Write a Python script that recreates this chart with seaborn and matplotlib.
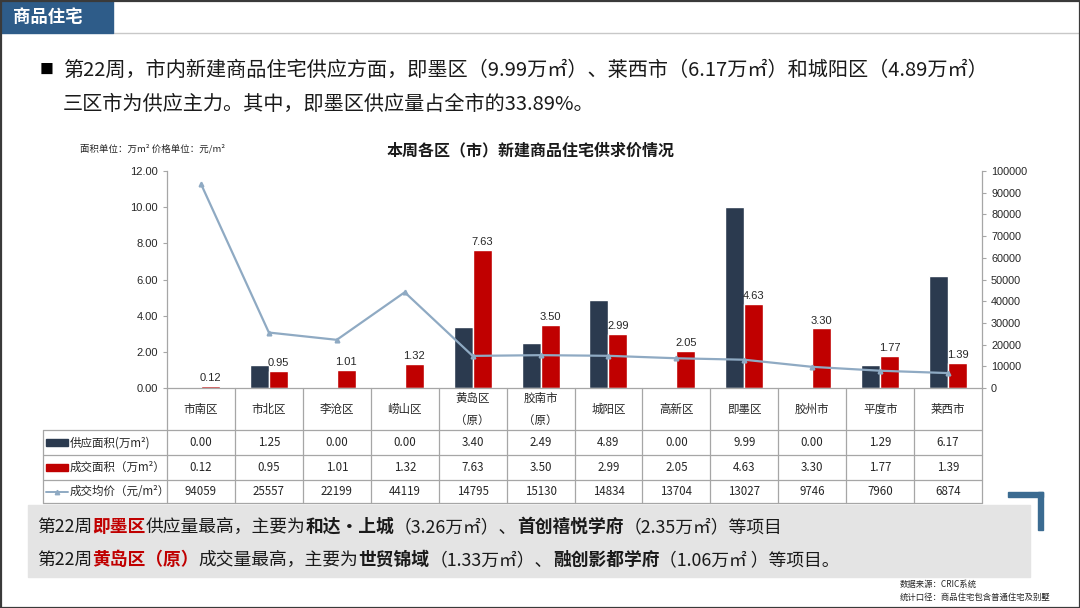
import numpy as np
import pandas as pd
import matplotlib
matplotlib.use("Agg")
import matplotlib.pyplot as plt
import seaborn as sns
from matplotlib.patches import Rectangle
from matplotlib.ticker import FuncFormatter

# ---------------- data ----------------
categories = ['市南区', '市北区', '李沧区', '崂山区', '黄岛区\n（原）', '胶南市\n（原）',
              '城阳区', '高新区', '即墨区', '胶州市', '平度市', '莱西市']
supply = [0.00, 1.25, 0.00, 0.00, 3.40, 2.49, 4.89, 0.00, 9.99, 0.00, 1.29, 6.17]
deal = [0.12, 0.95, 1.01, 1.32, 7.63, 3.50, 2.99, 2.05, 4.63, 3.30, 1.77, 1.39]
price = [94059, 25557, 22199, 44119, 14795, 15130, 14834, 13704, 13027, 9746, 7960, 6874]
series_names = ['供应面积(万m²)', '成交面积（万m²）', '成交均价（元/m²）']
left_ticks = [0, 2, 4, 6, 8, 10, 12]
right_ticks = [0, 10000, 20000, 30000, 40000, 50000, 60000, 70000, 80000, 90000, 100000]

DARK = '#2B3A4F'
RED = '#C00000'
LINE = '#8FAAC3'
GRID = '#A6A6A6'
TXT = '#262626'

sns.set_theme(style='white')
plt.rcParams['font.family'] = ['Noto Sans CJK SC', 'DejaVu Sans']

W, H = 1080, 608
fig = plt.figure(figsize=(W / 100, H / 100), dpi=100)
fig.patch.set_facecolor('white')

# overlay in pixel coordinates
ov = fig.add_axes([0, 0, 1, 1])
ov.set_xlim(0, W)
ov.set_ylim(H, 0)
ov.axis('off')
ov.set_zorder(0)

# ---- main chart axes ----
X0, X1, Y0, Y1 = 167, 982, 171, 388
ax = fig.add_axes([X0 / W, (H - Y1) / H, (X1 - X0) / W, (Y1 - Y0) / H])
ax.set_zorder(2)
ax.patch.set_alpha(0)

df = pd.DataFrame({
    '区': categories * 2,
    '值': supply + deal,
    '系列': [series_names[0]] * len(categories) + [series_names[1]] * len(categories),
})
sns.barplot(data=df, x='区', y='值', hue='系列', palette=[DARK, RED], width=0.56,
            saturation=1, errorbar=None, legend=False, ax=ax)
ax.bar_label(ax.containers[1], fmt='%.2f', padding=2, fontsize=8, color=TXT,
             fontfamily='Liberation Sans')
ax.set_ylim(0, 12)
ax.set_yticks(left_ticks)
ax.yaxis.set_major_formatter(FuncFormatter(lambda v, p: f'{v:.2f}'))
ax.set_xlabel('')
ax.set_ylabel('')
ax.tick_params(axis='x', bottom=False, labelbottom=False)
ax.tick_params(axis='y', left=True, length=3, width=0.8, color=GRID, direction='out',
               labelsize=8, labelcolor=TXT)
for lab in ax.get_yticklabels():
    lab.set_fontfamily('Liberation Sans')
for s in ['top', 'right']:
    ax.spines[s].set_visible(False)
for s in ['left', 'bottom']:
    ax.spines[s].set_color(GRID)
    ax.spines[s].set_linewidth(0.9)

ax2 = ax.twinx()
pdf = pd.DataFrame({'区': categories, '均价': price})
sns.pointplot(data=pdf, x='区', y='均价', color=LINE, markers='^', markersize=3.2,
              linewidth=1.6, errorbar=None, ax=ax2)
ax2.set_ylim(0, 100000)
ax2.set_yticks(right_ticks)
ax2.yaxis.set_major_formatter(FuncFormatter(lambda v, p: f'{int(v)}'))
ax2.set_ylabel('')
ax2.set_xlabel('')
ax2.tick_params(axis='y', right=True, length=3, width=0.8, color=GRID, direction='out',
                labelsize=7.8, labelcolor=TXT)
for lab in ax2.get_yticklabels():
    lab.set_fontfamily('Liberation Sans')
for s in ['top', 'left', 'bottom']:
    ax2.spines[s].set_visible(False)
ax2.spines['right'].set_color(GRID)
ax2.spines['right'].set_linewidth(0.9)
ax.set_xlim(-0.5, len(categories) - 0.5)
ax.tick_params(axis='x', bottom=False, labelbottom=False)

# ---------------- table ----------------
n = len(categories)
cw = (X1 - X0) / n
TL = 43
row_lines = [430, 455, 480, 503]
for y in row_lines:
    ov.plot([TL, X1], [y, y], color=GRID, lw=0.9)
ov.plot([TL, TL], [430, 503], color=GRID, lw=0.9)
for k in range(n + 1):
    ov.plot([X0 + k * cw, X0 + k * cw], [388, 503], color=GRID, lw=0.9)

for i, c in enumerate(categories):
    cx = X0 + (i + 0.5) * cw
    ov.text(cx, 409, c, ha='center', va='center', fontsize=8.3, color=TXT, linespacing=1.9)
    ov.text(cx, 443, f'{supply[i]:.2f}', ha='center', va='center', fontsize=8.3, color=TXT)
    ov.text(cx, 467.5, f'{deal[i]:.2f}', ha='center', va='center', fontsize=8.3, color=TXT)
    ov.text(cx, 491.5, f'{price[i]}', ha='center', va='center', fontsize=8.3, color=TXT)

ov.add_patch(Rectangle((46, 439), 22, 7, color=DARK))
ov.add_patch(Rectangle((46, 463.5), 22, 7, color=RED))
ov.plot([46, 68], [491.5, 491.5], color=LINE, lw=1.4)
ov.plot([57], [491.5], marker='^', color=LINE, markersize=3.2)
ov.text(70, 443, series_names[0], ha='left', va='center', fontsize=8.3, color=TXT)
ov.text(70, 467.5, series_names[1], ha='left', va='center', fontsize=8.3, color=TXT)
ov.text(70, 491.5, series_names[2], ha='left', va='center', fontsize=8.3, color=TXT)

# ---------------- titles / decoration ----------------
ov.add_patch(Rectangle((0, 0), 113, 33, color='#2E5C89', zorder=3))
ov.text(13, 17, '商品住宅', color='white', fontsize=12.5, fontweight='bold',
        ha='left', va='center', zorder=4)
ov.plot([113, W], [33, 33], color='#C8C8C8', lw=1)
ov.add_patch(Rectangle((0.5, 0.5), W - 1, H - 1, fill=False, ec='#3A3A3A', lw=1.6, zorder=5))

ov.text(40, 70, '■', fontsize=10, color='black', ha='left', va='center')
ov.text(63, 70, '第22周，市内新建商品住宅供应方面，即墨区（9.99万㎡）、莱西市（6.17万㎡）和城阳区（4.89万㎡）',
        fontsize=14.5, color='#1A1A1A', ha='left', va='center')
ov.text(63, 104, '三区市为供应主力。其中，即墨区供应量占全市的33.89%。',
        fontsize=14.5, color='#1A1A1A', ha='left', va='center')

ov.text(531, 150, '本周各区（市）新建商品住宅供求价情况', fontsize=11.5, fontweight='bold',
        color='#1A1A1A', ha='center', va='center')
ov.text(80, 149, '面积单位：万m² 价格单位：元/m²', fontsize=6.8, color=TXT,
        ha='left', va='center')

# bottom gray box
ov.add_patch(Rectangle((28, 505), 1002, 72, color='#E4E4E4', zorder=1))
# blue corner bracket
ov.add_patch(Rectangle((1008, 492), 35, 5, color='#3B6B91'))
ov.add_patch(Rectangle((1038, 492), 5, 38, color='#3B6B91'))


def seg_text(x, y, segs, size):
    renderer = fig.canvas.get_renderer()
    for s, col, wt in segs:
        t = ov.text(x, y, s, color=col, fontsize=size, fontweight=wt, ha='left',
                    va='center', zorder=3)
        bb = t.get_window_extent(renderer)
        x += bb.width


K = '#1A1A1A'
seg_text(37, 527, [('第22周', K, 'medium'), ('即墨区', RED, 'bold'),
                   ('供应量最高，主要为', K, 'medium'), ('和达·上城', K, 'bold'),
                   ('（3.26万㎡）、', K, 'medium'), ('首创禧悦学府', K, 'bold'),
                   ('（2.35万㎡）等项目', K, 'medium')], 12.8)
seg_text(37, 560, [('第22周', K, 'medium'), ('黄岛区（原）', RED, 'bold'),
                   ('成交量最高，主要为', K, 'medium'), ('世贸锦域', K, 'bold'),
                   ('（1.33万㎡）、', K, 'medium'), ('融创影都学府', K, 'bold'),
                   ('（1.06万㎡ ）等项目。', K, 'medium')], 12.8)

ov.text(900, 584, '数据来源：CRIC系统', fontsize=6, color=TXT, ha='left', va='center')
ov.text(900, 597, '统计口径：商品住宅包含普通住宅及别墅', fontsize=6, color=TXT,
        ha='left', va='center')

fig.savefig('out.png', dpi=100, facecolor='white')
